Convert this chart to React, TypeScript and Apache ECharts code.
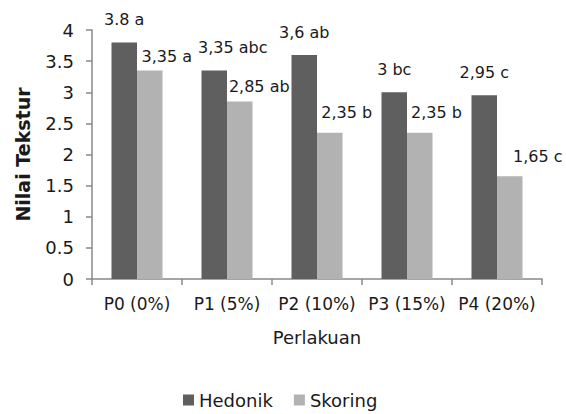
import React, { useEffect, useRef } from "react";
import * as echarts from "echarts";

const categories = ["P0 (0%)", "P1 (5%)", "P2 (10%)", "P3 (15%)", "P4 (20%)"];
const hedonikValues = [3.8, 3.35, 3.6, 3.0, 2.95];
const skoringValues = [3.35, 2.85, 2.35, 2.35, 1.65];
const hedonikLabels = ["3.8 a", "3,35 abc", "3,6 ab", "3 bc", "2,95 c"];
const skoringLabels = ["3,35 a", "2,85 ab", "2,35 b", "2,35 b", "1,65 c"];
const hedonikOffsets = [[0, -10], [18.5, -10], [0, -9.5], [0, -9.5], [0, -10]];
const skoringOffsets = [[17, -1], [19.5, -2], [17, -7], [16.7, -7], [28, -7]];

const FONT = "DejaVu Sans";
const TEXT = "#1a1a1a";

export default function App() {
  const ref = useRef<HTMLDivElement>(null);
  useEffect(() => {
    if (!ref.current) return;
    const chart = echarts.init(ref.current, null, { renderer: "svg" });
    const mk = (vals: number[], labels: string[], offs: number[][], color: string) =>
      vals.map((v, i) => ({
        value: v,
        label: {
          show: true,
          position: "top",
          distance: 5,
          offset: offs[i],
          formatter: labels[i],
          fontFamily: FONT,
          fontSize: 16,
          color: TEXT,
        },
        itemStyle: { color },
      }));
    chart.setOption({
      animation: false,
      textStyle: { fontFamily: FONT },
      grid: { left: 92, top: 30, right: 24, bottom: 135, containLabel: false },
      legend: {
        bottom: 0,
        left: 178,
        itemWidth: 11,
        itemHeight: 11,
        itemGap: 21,
        icon: "rect",
        textStyle: { fontFamily: FONT, fontSize: 18, color: TEXT },
        data: ["Hedonik", "Skoring"],
      },
      xAxis: {
        type: "category",
        data: categories,
        name: "Perlakuan",
        nameLocation: "middle",
        nameGap: 49,
        nameTextStyle: { fontFamily: FONT, fontSize: 18, color: TEXT },
        axisLine: { lineStyle: { color: "#888888", width: 1.5 } },
        axisTick: { show: true, length: 6, lineStyle: { color: "#888888", width: 1.5 } },
        axisLabel: { interval: 0, fontFamily: FONT, fontSize: 17, color: TEXT, margin: 16 },
      },
      yAxis: {
        type: "value",
        min: 0,
        max: 4,
        interval: 0.5,
        name: "Nilai Tekstur",
        nameLocation: "middle",
        nameGap: 60,
        nameTextStyle: { fontFamily: FONT, fontSize: 19, fontWeight: "bold", color: TEXT },
        axisLine: { show: true, lineStyle: { color: "#888888", width: 1.5 } },
        axisTick: { show: true, length: 6, lineStyle: { color: "#888888", width: 1.5 } },
        splitLine: { show: false },
        axisLabel: { fontFamily: FONT, fontSize: 18, color: TEXT, margin: 18 },
      },
      series: [
        {
          name: "Hedonik",
          type: "bar",
          barWidth: 25.5,
          barGap: "0%",
          itemStyle: { color: "#5f5f5f" },
          data: mk(hedonikValues, hedonikLabels, hedonikOffsets, "#5f5f5f"),
        },
        {
          name: "Skoring",
          type: "bar",
          barWidth: 25.5,
          barGap: "0%",
          itemStyle: { color: "#b2b2b2" },
          data: mk(skoringValues, skoringLabels, skoringOffsets, "#b2b2b2"),
        },
      ],
    });
    return () => chart.dispose();
  }, []);
  return <div ref={ref} style={{ width: 566, height: 414, position: "absolute", left: 0, top: 0 }} />;
}
